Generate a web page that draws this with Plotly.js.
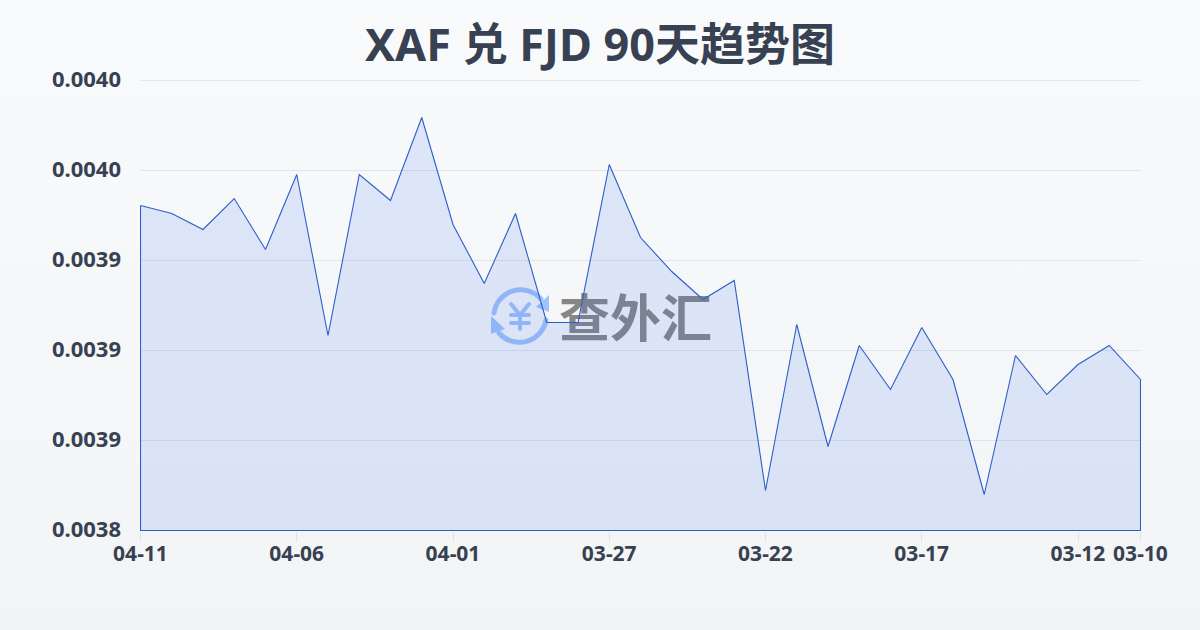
<!DOCTYPE html>
<html>
<head>
<meta charset="utf-8">
<script src="https://cdn.plot.ly/plotly-3.0.1.min.js"></script>
<style>
html,body{margin:0;padding:0;width:1200px;height:630px;overflow:hidden;background:linear-gradient(180deg,#f8fafc 0%,#f3f4f6 100%);}
#wm{position:absolute;left:0;top:0;width:1200px;height:630px;}
#wmText{position:absolute;left:559px;top:279px;font:700 51px/72px "Noto Sans CJK SC";color:#888786;white-space:nowrap;}
#chart{position:absolute;left:0;top:0;width:1200px;height:630px;}
</style>
</head>
<body>
<div id="wm">
<svg width="1200" height="630" style="position:absolute;left:0;top:0">
  <g fill="none" stroke="#a1c3fb" stroke-width="5" stroke-linecap="round">
    <path d="M494 313 A27 27 0 0 1 541 299"/>
    <path d="M546 320 A27 27 0 0 1 499 333"/>
    <path d="M511 304 L520 315 L529 304 M520 315 L520 329 M511 315 L529 315 M511 323 L529 323" stroke-width="4"/>
  </g>
  <path d="M549 295 L549 312 L536 307 Z M491 316 L491 334 L505 329 Z" fill="#a1c3fb"/>
</svg>
<div id="wmText">查外汇</div>
</div>
<div id="chart"></div>
<script>
var dates = ['04-11','04-10','04-09','04-08','04-07','04-06','04-05','04-04','04-03','04-02','04-01','03-31','03-30','03-29','03-28','03-27','03-26','03-25','03-24','03-23','03-22','03-21','03-20','03-19','03-18','03-17','03-16','03-15','03-14','03-13','03-12','03-11','03-10'];
var rates = [0.00398056,0.00397611,0.00396722,0.00398444,0.00395611,0.00399778,0.00390833,0.00399778,0.00398333,0.00402944,0.00397,0.00393722,0.00397611,0.00391556,0.00391556,0.00400333,0.00396278,0.00394389,0.00392833,0.00393889,0.00382222,0.00391444,0.00384667,0.00390278,0.00387833,0.00391278,0.00388389,0.00382,0.00389722,0.00387556,0.00389222,0.00390278,0.00388389];
var xTicks = ['04-11','04-06','04-01','03-27','03-22','03-17','03-12','03-10'];
var yTicks = [0.0038,0.00385,0.0039,0.00395,0.004,0.00405];
var yLabels = ['0.0038','0.0039','0.0039','0.0039','0.0040','0.0040'];
var yMin = 0.0038, yMax = 0.00405;
var textColor = '#374151';
var gridColor = 'rgba(148,163,184,0.22)';
var fontFamily = '"Noto Sans","Noto Sans CJK SC",sans-serif';
var halfPxX = 0.5 * (dates.length - 1) / 1000;
var halfPxY = 0.5 * (yMax - yMin) / 450;

var trace = {
  type:'scatter', mode:'lines',
  x: dates.concat([dates[dates.length-1], dates[0], dates[0]]),
  y: rates.concat([yMin, yMin, rates[0]]),
  fill:'toself', fillcolor:'rgba(37,99,235,0.125)',
  line:{color:'#2b5fc7',width:1.1,shape:'linear'},
  hoverinfo:'skip', cliponaxis:false
};
var layout = {
  width:1200, height:630,
  paper_bgcolor:'rgba(0,0,0,0)', plot_bgcolor:'rgba(0,0,0,0)',
  margin:{l:140,r:59,t:80,b:99},
  showlegend:false,
  title:{text:'XAF 兑 FJD 90天趋势图',x:0.5,xanchor:'center',y:0.928,yanchor:'middle',
    font:{family:fontFamily,size:45,color:'#374151',weight:700}},
  xaxis:{type:'category',categoryorder:'array',categoryarray:dates,range:[-halfPxX,dates.length-1+halfPxX],
    tickmode:'array',tickvals:xTicks,ticktext:xTicks,
    ticks:'outside',ticklen:10,tickcolor:'#dfe3e8',tickwidth:1,ticklabelstandoff:-6,
    showgrid:false,zeroline:false,showline:false,
    tickfont:{family:fontFamily,size:21,color:textColor,weight:700},tickangle:0},
  yaxis:{range:[yMin-halfPxY,yMax+halfPxY],tickmode:'array',tickvals:yTicks,ticktext:yLabels,
    showgrid:true,gridcolor:gridColor,gridwidth:1,zeroline:false,showline:false,ticks:'',
    ticklen:0,ticklabelstandoff:18,ticklabelshift:-1,tickfont:{family:fontFamily,size:22,color:textColor,weight:700}},
  shapes:[{type:'line',xref:'paper',x0:0,x1:1,yref:'y',y0:yMax,y1:yMax,line:{color:gridColor,width:1},layer:'below'}]
};
Plotly.newPlot('chart',[trace],layout,{displayModeBar:false,staticPlot:true});
</script>
</body>
</html>
